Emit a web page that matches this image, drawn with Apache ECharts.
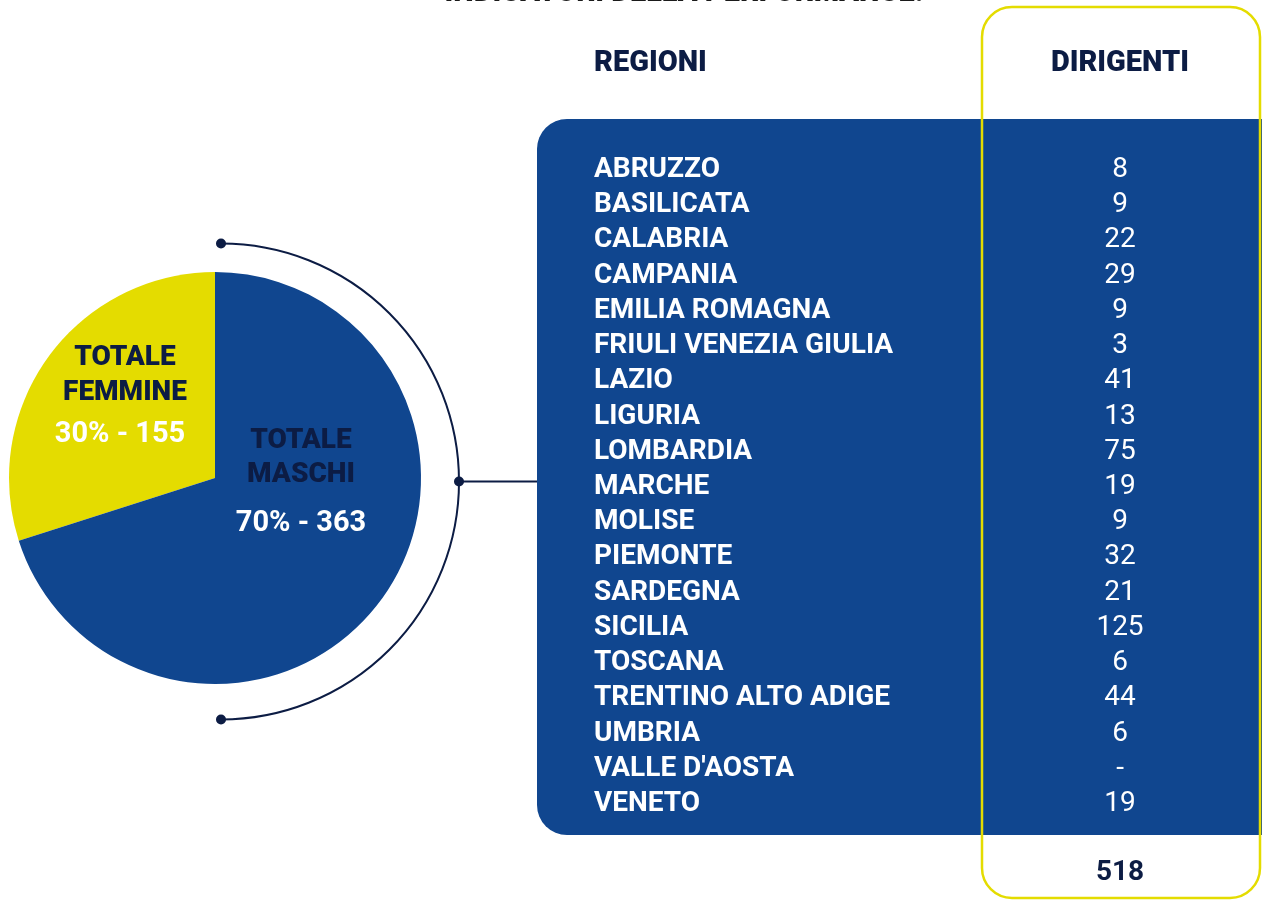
<!DOCTYPE html>
<html>
<head>
<meta charset="utf-8">
<script src="https://cdn.jsdelivr.net/npm/echarts@6/dist/echarts.min.js"></script>
<style>
html,body{margin:0;padding:0;background:#fff;}
#chart{width:1262px;height:900px;}
</style>
</head>
<body>
<div id="chart"></div>
<script>
// ---- data ----
const pieLabels = ['TOTALE\nFEMMINE', 'TOTALE\nMASCHI'];
const pieValues = [155, 363];
const regions = ['ABRUZZO','BASILICATA','CALABRIA','CAMPANIA','EMILIA ROMAGNA','FRIULI VENEZIA GIULIA','LAZIO','LIGURIA','LOMBARDIA','MARCHE','MOLISE','PIEMONTE','SARDEGNA','SICILIA','TOSCANA','TRENTINO ALTO ADIGE','UMBRIA',"VALLE D'AOSTA",'VENETO'];
const dirigenti = [8,9,22,29,9,3,41,13,75,19,9,32,21,125,6,44,6,null,19];
const totalDirigenti = 518;
const headerRegioni = 'REGIONI';
const headerDirigenti = 'DIRIGENTI';
const pageTitle = 'INDICATORI DELLA PERFORMANCE:';

// ---- style ----
const BLUE = '#10468f';
const YELLOW = '#e4dc00';
const NAVY = '#0c1c44';
const ROBOTO = 'Roboto, "Noto Sans", sans-serif';

const chart = echarts.init(document.getElementById('chart'));
const total = pieValues[0] + pieValues[1];
const pct = pieValues.map(v => Math.round(v / total * 100) + '% - ' + v);

const rowTop = 152.4, rowH = 669.2;

chart.setOption({
  animation: false,
  grid: [
    {left: 594, top: rowTop, width: 380, height: rowH},
    {left: 1020, top: rowTop, width: 200, height: rowH}
  ],
  xAxis: [
    {gridIndex: 0, type: 'value', min: 0, max: 1, show: false},
    {gridIndex: 1, type: 'value', min: -1, max: 1, show: false}
  ],
  yAxis: [
    {gridIndex: 0, type: 'category', inverse: true, data: regions,
     axisLine: {show: false}, axisTick: {show: false}, splitLine: {show: false},
     axisLabel: {inside: true, margin: 0, align: 'left', color: '#ffffff', interval: 0, hideOverlap: false,
                 fontFamily: ROBOTO, fontWeight: 'bold', fontSize: 28}},
    {gridIndex: 1, type: 'category', inverse: true, data: regions, show: false}
  ],
  series: [
    {
      type: 'pie', center: [215, 478], radius: 206, startAngle: 90, clockwise: false,
      label: {show: false}, labelLine: {show: false}, silent: true,
      data: pieValues.map((v, i) => ({value: v, name: pieLabels[i],
        itemStyle: {color: i === 0 ? YELLOW : BLUE}}))
    },
    {
      type: 'scatter', xAxisIndex: 1, yAxisIndex: 1, symbolSize: 0,
      itemStyle: {color: 'rgba(0,0,0,0)', opacity: 1}, silent: true, z: 5,
      data: dirigenti.map((v, i) => [0, i, v]),
      label: {show: true, position: 'inside', color: '#ffffff', fontFamily: ROBOTO, opacity: 1,
              fontSize: 28, formatter: p => p.data[2] == null ? '-' : String(p.data[2])}
    }
  ],
  graphic: [
    {type: 'rect', z: -10, silent: true,
     shape: {x: 537, y: 119, width: 800, height: 716, r: [30, 0, 0, 30]},
     style: {fill: BLUE}},
    {type: 'rect', z: 100, silent: true,
     shape: {x: 982, y: 7, width: 278, height: 891, r: 30},
     style: {fill: null, stroke: YELLOW, lineWidth: 2.5}},
    {type: 'text', z: 10, x: 684, y: 8, silent: true,
     style: {text: pageTitle, fill: '#1a1a1a', font: '900 29px ' + ROBOTO, align: 'center', verticalAlign: 'bottom'}},
    {type: 'text', z: 10, x: 594, y: 64, silent: true,
     style: {text: headerRegioni, fill: NAVY, font: '900 29px ' + ROBOTO, align: 'left', verticalAlign: 'middle'}},
    {type: 'text', z: 10, x: 1120, y: 64, silent: true,
     style: {text: headerDirigenti, fill: NAVY, font: '900 29px ' + ROBOTO, align: 'center', verticalAlign: 'middle'}},
    {type: 'text', z: 10, x: 1120, y: 873, silent: true,
     style: {text: String(totalDirigenti), fill: NAVY, font: 'bold 28px ' + ROBOTO, align: 'center', verticalAlign: 'middle'}},
    // connector arc
    {type: 'arc', z: 5, silent: true,
     shape: {cx: 221, cy: 481.5, r: 238, startAngle: -Math.PI / 2, endAngle: Math.PI / 2, clockwise: true},
     style: {fill: null, stroke: NAVY, lineWidth: 2}},
    {type: 'line', z: 5, silent: true, shape: {x1: 459, y1: 481.5, x2: 537, y2: 481.5},
     style: {stroke: NAVY, lineWidth: 2}},
    {type: 'circle', z: 6, silent: true, shape: {cx: 221, cy: 243.5, r: 5}, style: {fill: NAVY}},
    {type: 'circle', z: 6, silent: true, shape: {cx: 221, cy: 719.5, r: 5}, style: {fill: NAVY}},
    {type: 'circle', z: 6, silent: true, shape: {cx: 459, cy: 481.5, r: 5}, style: {fill: NAVY}},
    // pie labels
    {type: 'text', z: 10, x: 125, y: 375, silent: true,
     style: {text: pieLabels[0], fill: NAVY, font: '900 28px ' + ROBOTO, align: 'center', verticalAlign: 'middle', lineHeight: 35}},
    {type: 'text', z: 10, x: 120, y: 435, silent: true,
     style: {text: pct[0], fill: '#ffffff', font: 'bold 29px ' + ROBOTO, align: 'center', verticalAlign: 'middle'}},
    {type: 'text', z: 10, x: 301, y: 458, silent: true,
     style: {text: pieLabels[1], fill: NAVY, font: '900 28px ' + ROBOTO, align: 'center', verticalAlign: 'middle', lineHeight: 34}},
    {type: 'text', z: 10, x: 301, y: 524, silent: true,
     style: {text: pct[1], fill: '#ffffff', font: 'bold 29px ' + ROBOTO, align: 'center', verticalAlign: 'middle'}}
  ]
});
</script>
</body>
</html>
